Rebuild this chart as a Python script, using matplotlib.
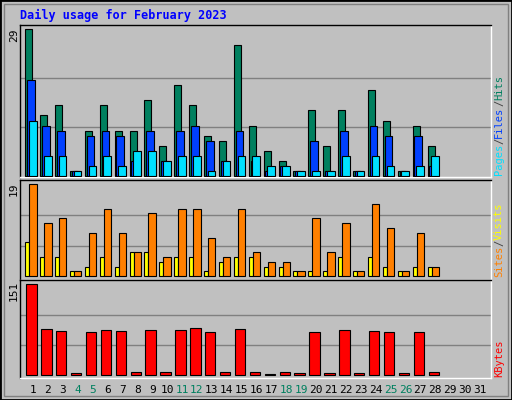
import matplotlib
matplotlib.use("Agg")
import matplotlib.pyplot as plt
from matplotlib.patches import Rectangle
import numpy as np

days = list(range(1, 32))
n = 28
hits  = [29,12,14,1,9,14,9,9,15,6,18,14,8,7,26,10,5,3,1,13,6,13,1,17,11,1,10,6]
files = [19,10,9,1,8,9,8,3,9,3,9,10,7,3,9,3,1,2,1,7,1,9,1,10,8,1,8,2]
pages = [11,4,4,1,2,4,2,5,5,3,4,4,1,3,4,4,2,2,1,1,1,4,1,4,2,1,2,4]
sites = [19,11,12,1,9,14,9,5,13,4,14,14,8,4,14,5,3,3,1,12,5,11,1,15,10,1,9,2]
visits = [7,4,4,1,2,4,2,5,5,3,4,4,1,3,4,4,2,2,1,1,1,4,1,4,2,1,2,2]
kbytes = [151,76,73,3,71,75,73,5,75,5,75,78,71,5,76,5,1.5,5,3,71,3,75,3,73,71,3,71,5]
weekends = [4,5,11,12,18,19,25,26]
title = "Daily usage for February 2023"

BG = "#C0C0C0"
C_HITS, C_FILES, C_PAGES = "#00805F", "#0040FF", "#00E0FF"
C_SITES, C_VISITS, C_KB = "#FF8000", "#FFFF00", "#FF0000"
W, H = 512, 400
fig = plt.figure(figsize=(W/100, H/100), dpi=100, facecolor=BG)
mono = "DejaVu Sans Mono"

def ax_at(top, bottom):
    a = fig.add_axes([20/W, 1-bottom/H, 471/W, (bottom-top)/H])
    a.set_facecolor(BG)
    a.set_xlim(0.13, 31.74)
    a.set_xticks([]); a.set_yticks([])
    for s in a.spines.values():
        s.set_linewidth(1)
    a.spines['top'].set_color('black'); a.spines['left'].set_color('black')
    a.spines['bottom'].set_color('white'); a.spines['right'].set_color('white')
    return a

x = np.arange(1, n+1)
kw = dict(edgecolor='black', linewidth=0.8, align='edge', zorder=3)

a1 = ax_at(25, 177)
a1.set_ylim(-0.14, 29.85)
for g in (29/3, 58/3):
    a1.axhline(g, color='#808080', lw=1, zorder=1)
a1.bar(x-0.52, hits, 0.47, color=C_HITS, **kw)
a1.bar(x-0.40, files, 0.52, color=C_FILES, **kw)
a1.bar(x-0.27, pages, 0.52, color=C_PAGES, **kw)

a2 = ax_at(180, 280)
a2.set_ylim(-0.76, 19.9)
for g in (19/3, 38/3):
    a2.axhline(g, color='#808080', lw=1, zorder=1)
a2.bar(x-0.52, visits, 0.27, color=C_VISITS, **kw)
a2.bar(x-0.25, sites, 0.5, color=C_SITES, **kw)

a3 = ax_at(280, 378)
a3.set_ylim(-4.5, 158)
for g in (151/3, 302/3):
    a3.axhline(g, color='#808080', lw=1, zorder=1)
a3.bar(x-0.45, kbytes, 0.7, color=C_KB, **kw)

for d in days:
    a3.text(d, -0.07, str(d), transform=a3.get_xaxis_transform(), ha='center', va='top',
            fontsize=8, family=mono, color=C_HITS if d in weekends else 'black')

fig.text(20/W, 1-15/H, title, color='#0000FF', fontsize=8.5, family=mono, weight='bold', va='center')

def lefttext(val, y):
    fig.text(14/W, 1-y/H, str(val), rotation=90, fontsize=8, family=mono, ha='center', va='center')
lefttext(max(hits), 35)
lefttext(max(sites), 189)
lefttext(max(kbytes), 291)

fig.canvas.draw()
renderer = fig.canvas.get_renderer()

def righttext(parts, ybottom):
    y = ybottom
    for txt, col in parts:
        t = fig.text(499/W, 1-y/H, txt, rotation=90, fontsize=7.5, family=mono, color=col,
                     ha='center', va='bottom')
        bb = t.get_window_extent(renderer)
        y -= bb.height
righttext([("Pages", C_PAGES), ("/", "#404040"), ("Files", C_FILES), ("/", "#404040"), ("Hits", C_HITS)], 175)
righttext([("Sites", C_SITES), ("/", "#404040"), ("Visits", C_VISITS)], 277)
righttext([("KBytes", C_KB)], 377)

fig.add_artist(Rectangle((0, 0), 1, 1, transform=fig.transFigure, fill=False, edgecolor='black', lw=2))
fig.add_artist(Rectangle((4/W, 4/H), 504/W, 392/H, transform=fig.transFigure, fill=False, edgecolor='#808080', lw=1))

fig.savefig("out.png", dpi=100, facecolor=BG)
